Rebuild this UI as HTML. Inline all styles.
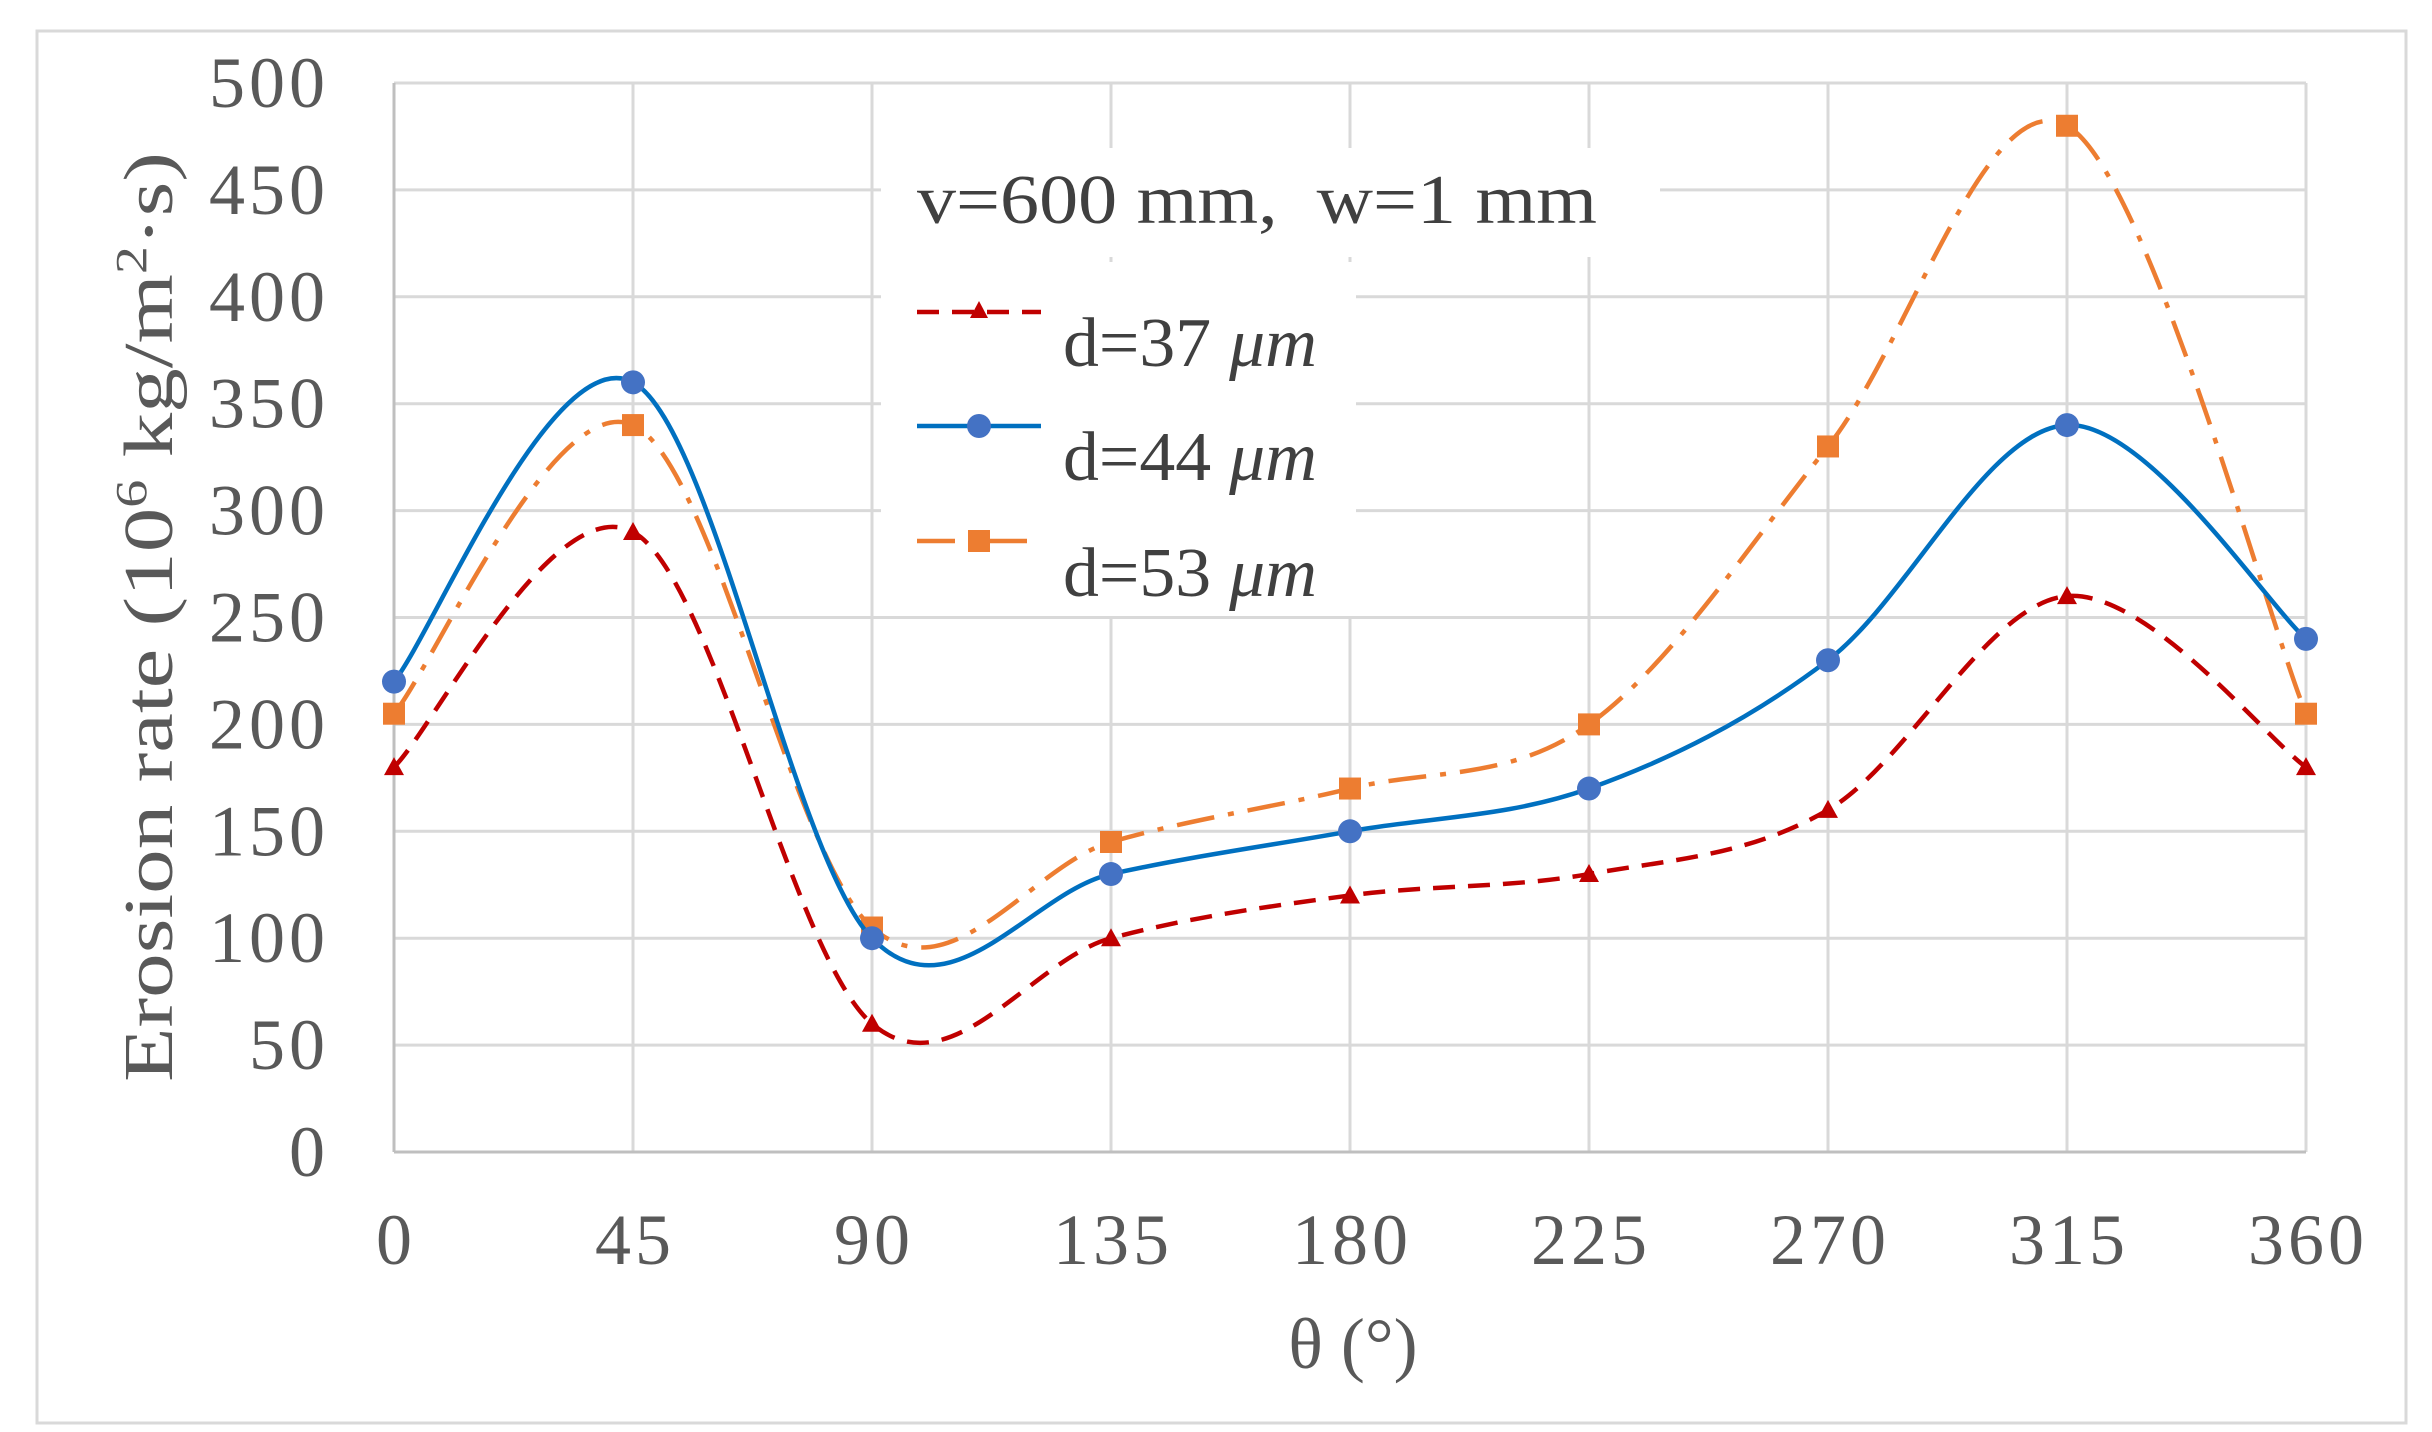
<!DOCTYPE html>
<html><head><meta charset="utf-8"><style>
html,body{margin:0;padding:0;background:#fff;}
svg{display:block;font-family:"Liberation Serif",serif;}
</style></head><body>
<svg id="s" width="2432" height="1432" viewBox="0 0 2432 1432" xmlns="http://www.w3.org/2000/svg">
<rect x="0" y="0" width="2432" height="1432" fill="#fff"/>
<rect x="37" y="31" width="2369" height="1392" fill="#fff" stroke="#d9d9d9" stroke-width="3"/>
<g id="grid"></g>
<g id="series"></g>
<g id="labels" fill="#595959" font-size="72" letter-spacing="4"></g>
<text x="1353" y="1368" text-anchor="middle" font-size="72" fill="#595959">θ (°)</text>
<text transform="translate(172,617) rotate(-90)" text-anchor="middle" font-size="70" fill="#595959" textLength="930" lengthAdjust="spacingAndGlyphs">Erosion rate (10<tspan dy="-26" font-size="44">6</tspan><tspan dy="26"> kg/m</tspan><tspan dy="-26" font-size="44">2</tspan><tspan dy="26">·s)</tspan></text>
<rect x="881" y="148" width="779" height="109" fill="#fff"/>
<rect x="881" y="262" width="475" height="354" fill="#fff"/>
<text x="917" y="223" font-size="70" fill="#404040" textLength="680" lengthAdjust="spacingAndGlyphs" xml:space="preserve">v=600 mm,  w=1 mm</text>
<g font-size="70" fill="#404040">
<line x1="917" y1="312" x2="1041" y2="312" stroke="#C00000" stroke-width="4.5" stroke-dasharray="22,13"/>
<polygon points="979,301 988,318 970,318" fill="#C00000"/>
<text x="1063" y="366" textLength="254" lengthAdjust="spacingAndGlyphs">d=37 <tspan font-style="italic">μm</tspan></text>
<line x1="917" y1="426" x2="1041" y2="426" stroke="#0070C0" stroke-width="4.5"/>
<circle cx="979" cy="426" r="12" fill="#4472C4"/>
<text x="1063" y="480" textLength="254" lengthAdjust="spacingAndGlyphs">d=44 <tspan font-style="italic">μm</tspan></text>
<line x1="917" y1="541" x2="1041" y2="541" stroke="#ED7D31" stroke-width="4.5" stroke-dasharray="38,14,6,14"/>
<rect x="968" y="530" width="22" height="22" fill="#ED7D31"/>
<text x="1063" y="596" textLength="254" lengthAdjust="spacingAndGlyphs">d=53 <tspan font-style="italic">μm</tspan></text>
</g>
</svg>
<script>
var NS="http://www.w3.org/2000/svg";
var X0=394,X1=2306,Y0=1152,Y1=83;
function px(i){return X0+(X1-X0)*i/8;}
function py(v){return Y0+(Y1-Y0)*v/500;}
function el(t,a,p){var e=document.createElementNS(NS,t);for(var k in a)e.setAttribute(k,a[k]);p.appendChild(e);return e;}
var g=document.getElementById("grid"),lab=document.getElementById("labels"),ser=document.getElementById("series");
for(var v=0;v<=500;v+=50){el("line",{x1:X0,x2:X1,y1:py(v),y2:py(v),stroke:"#d9d9d9","stroke-width":3},g);
 var t=el("text",{x:329,y:py(v)+24,"text-anchor":"end"},lab);t.textContent=v;}
for(var i=0;i<=8;i++){el("line",{x1:px(i),x2:px(i),y1:Y1,y2:Y0,stroke:"#d9d9d9","stroke-width":3},g);
 var t=el("text",{x:px(i)+2,y:1264,"text-anchor":"middle"},lab);t.textContent=i*45;}
el("line",{x1:X0,x2:X0,y1:Y1,y2:Y0,stroke:"#bfbfbf","stroke-width":3},g);
el("line",{x1:X0,x2:X1,y1:Y0,y2:Y0,stroke:"#bfbfbf","stroke-width":3},g);
function path(d){var P=d.map(function(v,i){return[px(i),py(v)];});var s="M"+P[0][0]+","+P[0][1];
 for(var i=0;i<P.length-1;i++){var p0=P[i-1]||P[i],p1=P[i],p2=P[i+1],p3=P[i+2]||P[i+1];
 s+=" C"+(p1[0]+(p2[0]-p0[0])/6)+","+(p1[1]+(p2[1]-p0[1])/6)+" "+(p2[0]-(p3[0]-p1[0])/6)+","+(p2[1]-(p3[1]-p1[1])/6)+" "+p2[0]+","+p2[1];}return s;}
var S=[
 {d:[205,340,105,145,170,200,330,480,205],c:"#ED7D31",da:"38,14,6,14",m:"sq"},
 {d:[180,290,60,100,120,130,160,260,180],c:"#C00000",da:"22,13",m:"tri"},
 {d:[220,360,100,130,150,170,230,340,240],c:"#0070C0",da:"",m:"ci"}];
S.forEach(function(s){var a={d:path(s.d),fill:"none",stroke:s.c,"stroke-width":4.5};if(s.da)a["stroke-dasharray"]=s.da;el("path",a,ser);
 s.d.forEach(function(v,i){var x=px(i),y=py(v);
  if(s.m=="sq")el("rect",{x:x-11,y:y-11,width:22,height:22,fill:"#ED7D31"},ser);
  else if(s.m=="tri")el("polygon",{points:x+","+(y-10)+" "+(x+10)+","+(y+8)+" "+(x-10)+","+(y+8),fill:"#C00000"},ser);
  else el("circle",{cx:x,cy:y,r:12,fill:"#4472C4"},ser);});});
</script>
</body></html>
